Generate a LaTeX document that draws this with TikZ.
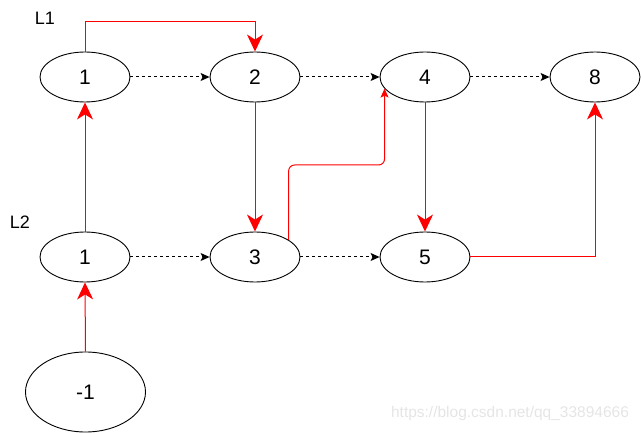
\documentclass[tikz,border=0pt]{standalone}
\usepackage{fontspec}
\setmainfont{Liberation Sans}
\usetikzlibrary{shapes.geometric,arrows.meta}
\begin{document}
\begin{tikzpicture}[x=1pt,y=-1pt,
  el/.style={draw=black,ellipse,minimum width=90pt,minimum height=50pt,inner sep=0pt,line width=0.9pt,font=\fontsize{21}{23}\selectfont},
  redline/.style={draw=red,line width=1pt,-{Stealth[length=17pt,width=16pt,inset=5pt]}},
  redthin/.style={draw=red,line width=1pt,-{Stealth[length=9pt,width=8pt,inset=2pt]}},
  dotarrow/.style={draw=black,line width=1pt,dash pattern=on 3pt off 3pt,-{Stealth[length=9pt,width=8pt,inset=2pt]}},
  lbl/.style={font=\fontsize{18}{20}\selectfont}]
\useasboundingbox (0,0) rectangle (641,433);
\node[el] (a1) at (85,77) {1};
\node[el] (a2) at (255,77) {2};
\node[el] (a4) at (425,77) {4};
\node[el] (a8) at (595,77) {8};
\node[el] (b1) at (85,257) {1};
\node[el] (b3) at (255,257) {3};
\node[el] (b5) at (425,257) {5};
\node[el,minimum width=120pt,minimum height=80pt] (m1) at (85.5,392) {-1};
\node[lbl] (l1) at (45,18) {L1};
\node[lbl] (l2) at (20,222) {L2};
\node[text=black!10,font=\fontsize{15.5}{17}\selectfont] (wm) at (510,413) {https://blog.csdn.net/qq\_33894666};
\coordinate (mid) at (0,165);
% dotted arrows
\draw[dotarrow] (a1) -- (a2);
\draw[dotarrow] (a2) -- (a4);
\draw[dotarrow] (a4) -- (a8);
\draw[dotarrow] (b1) -- (b3);
\draw[dotarrow] (b3) -- (b5);
% red connectors
\draw[redline] (a1.north) -- ++(0,-30) -| (a2.north);
\draw[redline] (b1.north) -- (a1.south);
\draw[redline] (m1.north) -- (b1.south);
\draw[redline] (a2.south) -- (b3.north);
\draw[redline] (a4.south) -- (b5.north);
\draw[redline] (b5.east) -| (a8.south);
\draw[redthin,rounded corners=6pt] (b3.27) -- (b3.27 |- mid) -- (a4.196 |- mid) -- (a4.196);
\end{tikzpicture}
\end{document}
